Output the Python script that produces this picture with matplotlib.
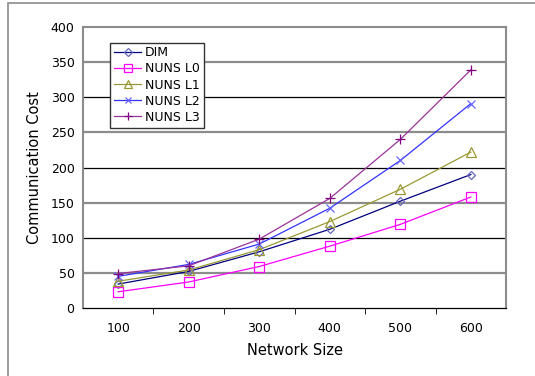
import matplotlib.pyplot as plt
from matplotlib.patches import Rectangle

sizes = ["100", "200", "300", "400", "500", "600"]
dim = [34, 52, 80, 112, 152, 190]
nuns_l0 = [23, 37, 59, 88, 119, 158]
nuns_l1 = [38, 54, 83, 123, 169, 222]
nuns_l2 = [45, 62, 91, 142, 210, 291]
nuns_l3 = [49, 60, 98, 156, 240, 339]

series = [
    ("DIM", dim, "#000080", "D", 4.5, "#6666bb"),
    ("NUNS L0", nuns_l0, "#ff00ff", "s", 6.5, "#ff00ff"),
    ("NUNS L1", nuns_l1, "#999933", "^", 7, "#999933"),
    ("NUNS L2", nuns_l2, "#3333ff", "x", 6, "#6666ff"),
    ("NUNS L3", nuns_l3, "#993399", "+", 7, "#800080"),
]

plt.rcParams['font.family'] = ['DejaVu Sans']
fig = plt.figure(figsize=(5.35, 3.76), dpi=100)
ax = fig.add_axes([0.155, 0.181, 0.791, 0.747])

# gridlines, alternating grey / black like the original
for v in range(50, 400, 50):
    if v % 100 == 0:
        ax.axhline(v, color="black", lw=0.9, zorder=0)
    else:
        ax.axhline(v, color="#8c8c8c", lw=1.6, zorder=0)

x = list(range(1, len(sizes) + 1))
for name, vals, col, mk, ms, mcol in series:
    ax.plot(x, vals, color=col, lw=0.9, marker=mk, markersize=ms,
            markerfacecolor="none", markeredgecolor=mcol, markeredgewidth=0.9,
            label=name)

ax.set_xlim(0.5, 6.5)
ax.set_ylim(0, 400)
ax.set_yticks(range(0, 401, 50))
ax.set_xticks(x)
ax.set_xticklabels(sizes)
ax.set_xticks([1.5, 2.5, 3.5, 4.5, 5.5], minor=True)
ax.tick_params(axis="x", which="major", length=0, labelsize=9, pad=10)
ax.tick_params(axis="x", which="minor", length=4, direction="out", color="black")
ax.tick_params(axis="y", length=0, labelsize=9, pad=6)

for s in ["left", "top", "right"]:
    ax.spines[s].set_color("#8c8c8c")
    ax.spines[s].set_linewidth(1.5)
ax.spines["bottom"].set_color("black")
ax.spines["bottom"].set_linewidth(0.9)

ax.set_xlabel("Network Size", fontsize=10.5, labelpad=6)
ax.set_ylabel("Communication Cost", fontsize=10.5, labelpad=6)

leg = ax.legend(loc="upper left", bbox_to_anchor=(0.064, 0.945), fontsize=9,
                frameon=True, fancybox=False, borderpad=0.3, labelspacing=0.25,
                handlelength=2.2, handletextpad=0.3, borderaxespad=0,
                markerscale=0.8)
leg.get_frame().set_edgecolor("#333333")
leg.get_frame().set_linewidth(1.0)
leg.get_frame().set_alpha(1)

# outer frame of the chart area
fig.add_artist(Rectangle((8 / 535, -0.01), 1.2, 1 - 3 / 376 + 0.01,
                         transform=fig.transFigure, fill=False,
                         edgecolor="#8c8c8c", lw=1.2))

fig.savefig("out.png", dpi=100)
